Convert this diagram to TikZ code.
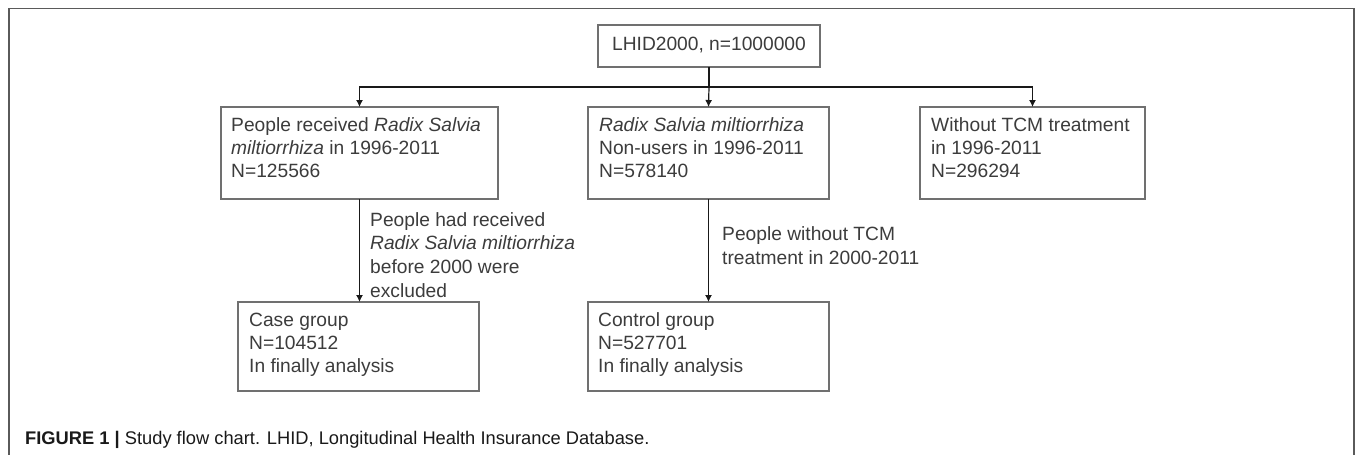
\documentclass[tikz,border=0pt]{standalone}
\usepackage{fontspec}
\setmainfont{Liberation Sans}
\usetikzlibrary{arrows.meta}
\definecolor{boxgray}{HTML}{707070}
\definecolor{txtgray}{HTML}{3C3C3C}
\definecolor{framegray}{HTML}{5A5A5A}
\begin{document}
\begin{tikzpicture}[x=1pt,y=-1pt,
  box/.style={draw=boxgray, line width=1.2pt, inner sep=0pt, outer sep=0pt, anchor=north west},
  txt/.style={anchor=north west, inner sep=0pt, align=left, text=txtgray, font=\fontsize{19.2}{23.2}\selectfont},
  arr/.style={draw=black!90, line width=1.2pt, -{Latex[length=7pt,width=7pt]}},
  conn/.style={draw=black!90, line width=1.2pt}]
\useasboundingbox (0,0) rectangle (1355,455);
% frame
\draw[framegray, line width=1.5pt] (9,455) -- (9,8.5) -- (1354,8.5) -- (1354,455);
% boxes
\node[box, minimum width=222pt, minimum height=42pt] (top) at (598,25) {};
\node[box, minimum width=277pt, minimum height=92pt] (A) at (221,107) {};
\node[box, minimum width=241pt, minimum height=92pt] (B) at (588,107) {};
\node[box, minimum width=225pt, minimum height=92pt] (C) at (920,107) {};
\node[box, minimum width=241pt, minimum height=89pt] (case) at (238,302) {};
\node[box, minimum width=241pt, minimum height=89pt] (ctrl) at (588,302) {};
% texts
\node[txt, anchor=base] (toptxt) at (709,50) {LHID2000, n=1000000};
\node[txt] (Atxt) at (231,114.8) {\strut People received \textit{Radix Salvia}\\\textit{miltiorrhiza} in 1996-2011\\N=125566};
\node[txt] (Btxt) at (599,114.8) {\strut\textit{Radix Salvia miltiorrhiza}\\Non-users in 1996-2011\\N=578140};
\node[txt] (Ctxt) at (931,114.8) {\strut Without TCM treatment\\in 1996-2011\\N=296294};
\node[txt] (casetxt) at (249,309.8) {\strut Case group\\N=104512\\In finally analysis};
\node[txt] (ctrltxt) at (598,309.8) {\strut Control group\\N=527701\\In finally analysis};
\node[txt, font=\fontsize{19.2}{23.7}\selectfont] (lblA) at (370,209.4) {\strut People had received\\\textit{Radix Salvia miltiorrhiza}\\before 2000 were\\excluded};
\node[txt, font=\fontsize{19.2}{24.5}\selectfont] (lblB) at (722,222.9) {\strut People without TCM\\treatment in 2000-2011};
% connectors
\coordinate (split) at ([yshift=-20pt]top.south);
\draw[conn] (top.south) -- (split);
\draw[arr] (split) -| (A.north);
\draw[arr] (split) -- (B.north);
\draw[arr] (split) -| (C.north);
\draw[arr] (A.south) -- (case.north -| A.south);
\draw[arr] (B.south) -- (ctrl.north);
% caption
\node[anchor=base west, inner sep=0pt, text=black!90, font=\fontsize{18.3}{20}\selectfont] (cap) at (25,444) {\textbf{FIGURE 1 |} Study flow chart. LHID, Longitudinal Health Insurance Database.};
\end{tikzpicture}
\end{document}
